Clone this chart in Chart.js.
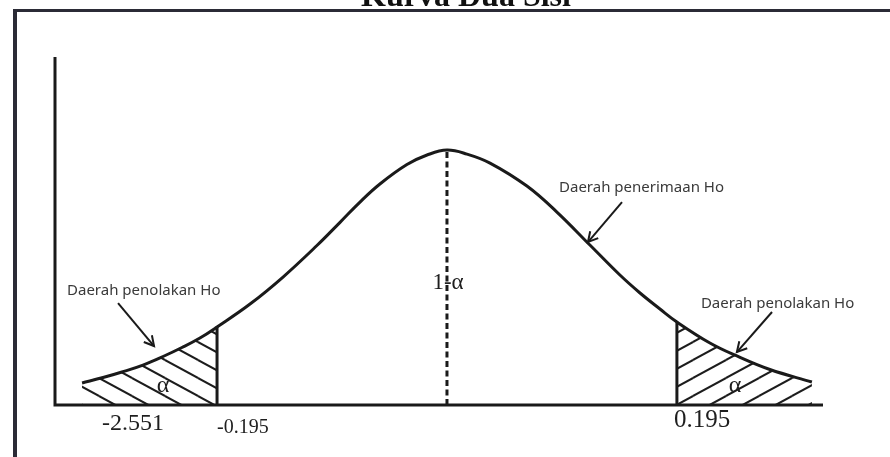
<!DOCTYPE html>
<html><head><meta charset="utf-8">
<script src="https://cdn.jsdelivr.net/npm/chart.js@4.4.0/dist/chart.umd.min.js"></script>
<style>html,body{margin:0;padding:0;background:#fff;overflow:hidden}canvas{display:block}</style>
</head><body>
<canvas id="c" width="890" height="457"></canvas>
<script>
// ---- data ----
const titleText = 'Kurva Dua Sisi';
const curveX = [-2.433,-2.293,-2.167,-2.027,-1.893,-1.767,-1.647,-1.533,-1.313,-1.093,-0.867,-0.713,-0.58,-0.447,-0.267,-0.133,0,0.133,0.287,0.533,0.733,0.953,1.153,1.287,1.42,1.533,1.753,1.933,2.153,2.433];
const curveY = [0.0345,0.0431,0.0518,0.0627,0.0761,0.0902,0.1051,0.1224,0.1584,0.2008,0.2502,0.2866,0.3184,0.3467,0.3772,0.3922,0.4,0.3937,0.3796,0.3435,0.3027,0.251,0.2039,0.1757,0.1506,0.1302,0.0973,0.0769,0.0557,0.0361];
const criticalX = [-1.533, 1.533];
const tickPositions = [-2.093, -1.533, 1.513];
const tickLabels = ['-2.551', '-0.195', '0.195'];
const regionLabels = ['Daerah penolakan Ho', 'Daerah penerimaan Ho', 'Daerah penolakan Ho'];
const areaLabels = ['\u03b1', '1-\u03b1', '\u03b1'];

// ---- derived ----
const curve = curveX.map((x, i) => ({x, y: curveY[i]}));
const leftTail = curve.filter(p => p.x <= criticalX[0] + 1e-9);
const rightTail = curve.filter(p => p.x >= criticalX[1] - 1e-9);
const critY = criticalX.map(c => curveY[curveX.findIndex(x => Math.abs(x - c) < 1e-9)]);
const peakY = curveY[curveX.indexOf(0)];

function hatch(dir){
  const w = 33, h = 18, c = document.createElement('canvas');
  c.width = w; c.height = h;
  const g = c.getContext('2d');
  g.strokeStyle = '#1c1c1c'; g.lineWidth = 2;
  for (const ox of [-w, 0, w]) for (const oy of [-h, 0, h]) {
    g.beginPath();
    if (dir > 0) { g.moveTo(ox, oy); g.lineTo(ox + w, oy + h); }
    else { g.moveTo(ox, oy + h); g.lineTo(ox + w, oy); }
    g.stroke();
  }
  return g.createPattern(c, 'repeat');
}

const INK = '#1a1a1a';

const decor = {
  id: 'decor',
  beforeDraw(chart){
    const ctx = chart.ctx;
    ctx.save();
    ctx.fillStyle = '#ffffff';
    ctx.fillRect(0, 0, chart.width, chart.height);
    ctx.fillStyle = '#2b2b36';
    ctx.fillRect(13, 9, chart.width - 13, 3);
    ctx.fillRect(13, 9, 4, chart.height - 9);
    ctx.fillStyle = '#111';
    ctx.font = 'bold 32px "Liberation Serif", serif';
    ctx.textAlign = 'center';
    ctx.textBaseline = 'alphabetic';
    ctx.fillText(titleText, 466, 6);
    ctx.restore();
  },
  afterDatasetsDraw(chart){
    const ctx = chart.ctx, a = chart.chartArea;
    const xs = chart.scales.x, ys = chart.scales.y;
    const X = v => xs.getPixelForValue(v), Y = v => ys.getPixelForValue(v);
    ctx.save();
    ctx.strokeStyle = INK; ctx.lineWidth = 3; ctx.lineCap = 'butt';
    ctx.beginPath();
    ctx.moveTo(a.left + 1, a.top);
    ctx.lineTo(a.left + 1, a.bottom);
    ctx.lineTo(a.right, a.bottom);
    ctx.stroke();
    const tickFonts = [24, 20, 25], tickAlign = ['center', 'left', 'left'], tickBase = [430, 433, 427];
    ctx.fillStyle = '#1e1e1e';
    tickLabels.forEach((t, i) => {
      ctx.font = tickFonts[i] + 'px "Liberation Serif", serif';
      ctx.textAlign = tickAlign[i];
      ctx.textBaseline = 'alphabetic';
      ctx.fillText(t, X(tickPositions[i]), tickBase[i]);
    });
    ctx.font = '15px "Noto Sans", sans-serif';
    ctx.fillStyle = '#3a3a3a';
    ctx.textAlign = 'left';
    ctx.fillText(regionLabels[0], X(-2.533), Y(0.172));
    ctx.fillText(regionLabels[1], X(0.747), Y(0.334));
    ctx.fillText(regionLabels[2], X(1.693), Y(0.152));
    ctx.fillStyle = '#1e1e1e';
    ctx.textAlign = 'center'; ctx.textBaseline = 'middle';
    ctx.font = '24px "Liberation Serif", serif';
    ctx.fillText(areaLabels[0], X(-1.893), Y(0.031));
    ctx.fillText(areaLabels[2], X(1.92), Y(0.030));
    ctx.font = '23px "Liberation Serif", serif';
    ctx.fillText(areaLabels[1], X(0.007), Y(0.192));
    const arrow = (x1, y1, x2, y2) => {
      const p1 = [X(x1), Y(y1)], p2 = [X(x2), Y(y2)];
      ctx.strokeStyle = INK; ctx.lineWidth = 2;
      ctx.beginPath(); ctx.moveTo(p1[0], p1[1]); ctx.lineTo(p2[0], p2[1]); ctx.stroke();
      const ang = Math.atan2(p2[1] - p1[1], p2[0] - p1[0]), L = 11, s = 0.5;
      ctx.beginPath();
      ctx.moveTo(p2[0] - L * Math.cos(ang - s), p2[1] - L * Math.sin(ang - s));
      ctx.lineTo(p2[0], p2[1]);
      ctx.lineTo(p2[0] - L * Math.cos(ang + s), p2[1] - L * Math.sin(ang + s));
      ctx.stroke();
    };
    arrow(-2.193, 0.16, -1.953, 0.0925);
    arrow(1.167, 0.3184, 0.94, 0.2557);
    arrow(2.167, 0.1459, 1.933, 0.0831);
    ctx.restore();
  }
};

new Chart(document.getElementById('c'), {
  type: 'line',
  data: {
    datasets: [
      { data: curve, borderColor: INK, borderWidth: 3, pointRadius: 0, fill: false, tension: 0.4 },
      { data: [{x: criticalX[0], y: 0}, {x: criticalX[0], y: critY[0]}], borderColor: INK, borderWidth: 3, pointRadius: 0, fill: false },
      { data: [{x: criticalX[1], y: 0}, {x: criticalX[1], y: critY[1]}], borderColor: INK, borderWidth: 3, pointRadius: 0, fill: false },
      { data: [{x: 0, y: 0}, {x: 0, y: peakY}], borderColor: INK, borderWidth: 3, borderDash: [6, 3.5], pointRadius: 0, fill: false },
      { data: leftTail, borderWidth: 0, borderColor: 'rgba(0,0,0,0)', pointRadius: 0, fill: 'origin', backgroundColor: hatch(1), tension: 0.4 },
      { data: rightTail, borderWidth: 0, borderColor: 'rgba(0,0,0,0)', pointRadius: 0, fill: 'origin', backgroundColor: hatch(-1), tension: 0.4 }
    ]
  },
  options: {
    responsive: false,
    animation: false,
    devicePixelRatio: 1,
    layout: { padding: { left: 54, right: 67, top: 57, bottom: 52 } },
    scales: {
      x: { type: 'linear', min: -2.62, max: 2.507, display: false },
      y: { type: 'linear', min: 0, max: 0.546, display: false }
    },
    plugins: { legend: { display: false }, tooltip: { enabled: false }, title: { display: false } }
  },
  plugins: [decor]
});
</script>
</body></html>
